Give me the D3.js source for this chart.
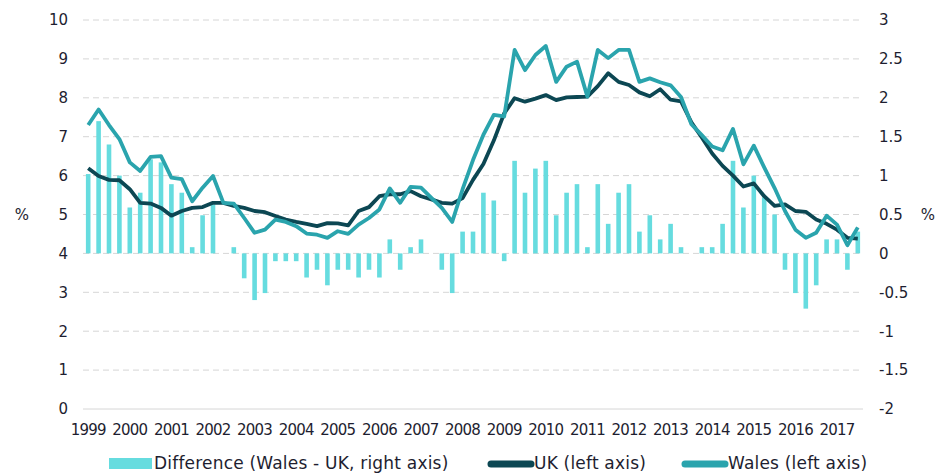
<!DOCTYPE html>
<html>
<head>
<meta charset="utf-8">
<script src="https://cdn.jsdelivr.net/npm/d3@7"></script>
<style>
  body { margin: 0; background: #fff; }
  svg text { font-family: "Century Gothic", "DejaVu Sans", sans-serif; fill: #1e1e30; }
</style>
</head>
<body>
<div id="chart"></div>
<script>
// quarterly series, 1999 Q1 - 2017 Q3
const years = d3.range(1999, 2018);
const quarters = [];
years.forEach(y => [1, 2, 3, 4].forEach(q => quarters.push(y + ' Q' + q)));
quarters.length = 75;

const wales = [
  7.30, 7.70, 7.30, 6.94, 6.34, 6.12, 6.48, 6.50, 5.95, 5.91, 5.34, 5.69,
  5.99, 5.30, 5.28, 4.91, 4.53, 4.61, 4.87, 4.81, 4.70, 4.51, 4.48, 4.40,
  4.57, 4.50, 4.74, 4.91, 5.13, 5.67, 5.30, 5.71, 5.69, 5.43, 5.17, 4.81,
  5.65, 6.40, 7.05, 7.56, 7.52, 9.23, 8.71, 9.10, 9.33, 8.41, 8.80, 8.93,
  8.03, 9.23, 9.02, 9.23, 9.23, 8.41, 8.50, 8.40, 8.32, 8.02, 7.32, 7.04,
  6.75, 6.65, 7.20, 6.29, 6.77, 6.21, 5.68, 5.09, 4.61, 4.40, 4.53, 4.97,
  4.74, 4.21, 4.67
];

const uk = [
  6.19, 5.99, 5.89, 5.88, 5.65, 5.30, 5.28, 5.17, 4.97, 5.09, 5.17, 5.19,
  5.30, 5.30, 5.22, 5.17, 5.09, 5.06, 4.96, 4.87, 4.81, 4.76, 4.70, 4.78,
  4.77, 4.72, 5.09, 5.19, 5.47, 5.52, 5.52, 5.60, 5.47, 5.39, 5.30, 5.28,
  5.42, 5.89, 6.30, 6.90, 7.60, 7.99, 7.90, 7.98, 8.07, 7.94, 8.01, 8.02,
  8.03, 8.30, 8.63, 8.41, 8.33, 8.14, 8.04, 8.22, 7.95, 7.91, 7.37, 6.98,
  6.57, 6.25, 6.00, 5.72, 5.80, 5.47, 5.22, 5.26, 5.09, 5.07, 4.87, 4.76,
  4.61, 4.40, 4.38
];

const difference = [
  1.02, 1.70, 1.40, 1.00, 0.59, 0.78, 1.21, 1.17, 0.89, 0.78, 0.08, 0.49,
  0.63, 0.00, 0.08, -0.32, -0.60, -0.51, -0.10, -0.10, -0.10, -0.31, -0.21, -0.41,
  -0.21, -0.21, -0.31, -0.21, -0.31, 0.18, -0.21, 0.08, 0.18, 0.00, -0.21, -0.51,
  0.28, 0.28, 0.78, 0.68, -0.10, 1.19, 0.78, 1.09, 1.19, 0.49, 0.78, 0.89,
  0.08, 0.89, 0.38, 0.78, 0.89, 0.28, 0.49, 0.18, 0.38, 0.08, 0.00, 0.08,
  0.08, 0.38, 1.19, 0.59, 1.00, 0.72, 0.50, -0.21, -0.51, -0.71, -0.41, 0.18,
  0.18, -0.21, 0.28
];

const leftTicks = d3.range(0, 11);
const rightTicks = [-2, -1.5, -1, -0.5, 0, 0.5, 1, 1.5, 2, 2.5, 3];

class Chart {

    constructor(opts) {
        this.element = opts.element;
        this.draw();
    }

    draw() {
        this.width = 943;
        this.height = 474;
        this.margin = { top: 20, right: 80, bottom: 65, left: 83 };

        this.element.innerHTML = '';
        this.svg = d3.select(this.element).append('svg')
            .attr('width', this.width)
            .attr('height', this.height);

        this.createScales();
        this.addGrid();
        this.addBars();
        this.addLines();
        this.addAxes();
        this.addLegend();
    }

    createScales() {
        const m = this.margin;
        this.x = d3.scaleBand()
            .domain(d3.range(quarters.length))
            .range([m.left, this.width - m.right]);

        this.yLeft = d3.scaleLinear()
            .domain([0, 10])
            .range([this.height - m.bottom, m.top]);

        this.yRight = d3.scaleLinear()
            .domain([-2, 3])
            .range([this.height - m.bottom, m.top]);
    }

    addGrid() {
        const x0 = this.x.range()[0], x1 = this.x.range()[1];
        this.svg.append('g')
            .selectAll('line')
            .data(leftTicks)
            .join('line')
            .attr('x1', x0)
            .attr('x2', x1)
            .attr('y1', d => this.yLeft(d))
            .attr('y2', d => this.yLeft(d))
            .attr('stroke', '#d6d6d6')
            .attr('stroke-width', 1)
            .attr('stroke-dasharray', d => d === 0 ? null : '6,4');
    }

    addBars() {
        const bw = 4.6;
        this.svg.append('g')
            .selectAll('rect')
            .data(difference)
            .join('rect')
            .attr('x', (d, i) => this.x(i) + this.x.bandwidth() / 2 - bw / 2)
            .attr('width', bw)
            .attr('y', d => this.yRight(Math.max(0, d)))
            .attr('height', d => Math.abs(this.yRight(d) - this.yRight(0)))
            .attr('fill', '#66dcdf');
    }

    addLines() {
        const line = d3.line()
            .x((d, i) => this.x(i) + this.x.bandwidth() / 2)
            .y(d => this.yLeft(d));

        this.svg.append('path')
            .datum(uk)
            .attr('d', line)
            .attr('fill', 'none')
            .attr('stroke', '#0c4753')
            .attr('stroke-width', 3.8)
            .attr('stroke-linejoin', 'round');

        this.svg.append('path')
            .datum(wales)
            .attr('d', line)
            .attr('fill', 'none')
            .attr('stroke', '#2aa4ad')
            .attr('stroke-width', 3.8)
            .attr('stroke-linejoin', 'round');
    }

    addAxes() {
        const fs = '15px';

        const left = d3.axisLeft(this.yLeft)
            .tickValues(leftTicks)
            .tickSize(0)
            .tickPadding(0)
            .tickFormat(d3.format('d'));
        this.svg.append('g')
            .attr('transform', 'translate(68,0)')
            .call(left)
            .call(g => g.select('.domain').remove())
            .selectAll('text')
            .style('font-size', fs);

        const right = d3.axisRight(this.yRight)
            .tickValues(rightTicks)
            .tickSize(0)
            .tickPadding(0)
            .tickFormat(d => String(d));
        this.svg.append('g')
            .attr('transform', 'translate(879,0)')
            .call(right)
            .call(g => g.select('.domain').remove())
            .selectAll('text')
            .style('font-size', fs);

        const bottom = d3.axisBottom(this.x)
            .tickValues(d3.range(0, quarters.length, 4))
            .tickSize(0)
            .tickPadding(0)
            .tickFormat(i => quarters[i].slice(0, 4));
        this.svg.append('g')
            .attr('transform', 'translate(0,424)')
            .call(bottom)
            .call(g => g.select('.domain').remove())
            .selectAll('text')
            .style('font-size', fs)
            .attr('letter-spacing', '-0.8px');

        this.svg.append('text')
            .attr('x', 22).attr('y', 215)
            .attr('text-anchor', 'middle')
            .attr('dominant-baseline', 'middle')
            .style('font-size', fs)
            .text('%');
        this.svg.append('text')
            .attr('x', 928).attr('y', 215)
            .attr('text-anchor', 'middle')
            .attr('dominant-baseline', 'middle')
            .style('font-size', fs)
            .text('%');
    }

    addLegend() {
        const y = 464;
        const g = this.svg.append('g')
            .style('font-size', '17px')
            .attr('letter-spacing', '0.2px');

        g.append('rect')
            .attr('x', 109).attr('y', y - 6)
            .attr('width', 43).attr('height', 11)
            .attr('fill', '#66dcdf');
        g.append('text')
            .attr('x', 154).attr('y', y)
            .attr('dominant-baseline', 'middle')
            .text('Difference (Wales - UK, right axis)');

        const items = [
            { x: 491, color: '#0c4753', label: 'UK (left axis)' },
            { x: 685, color: '#2aa4ad', label: 'Wales (left axis)' }
        ];
        items.forEach(it => {
            g.append('line')
                .attr('x1', it.x).attr('x2', it.x + 40)
                .attr('y1', y).attr('y2', y)
                .attr('stroke', it.color)
                .attr('stroke-width', 7)
                .attr('stroke-linecap', 'round');
            g.append('text')
                .attr('x', it.x + 43).attr('y', y)
                .attr('dominant-baseline', 'middle')
                .text(it.label);
        });
    }
}

new Chart({ element: document.getElementById('chart') });
</script>
</body>
</html>
